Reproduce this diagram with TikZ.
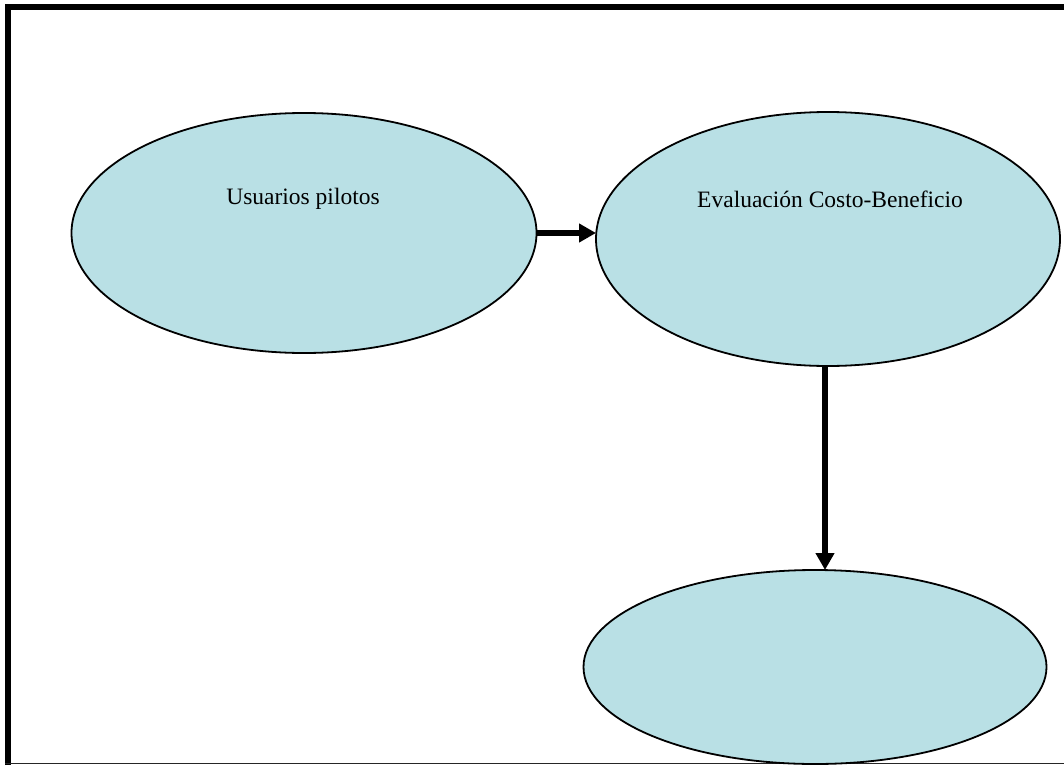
\documentclass[tikz,border=0pt]{standalone}
\usepackage{fontspec}
\setmainfont{Liberation Serif}
\usetikzlibrary{shapes.geometric,arrows.meta}
\definecolor{bubble}{RGB}{185,224,229}
\tikzset{
  x=1pt,y=-1pt,
  bubble/.style={ellipse,draw=black,fill=bubble,line width=1.8pt,inner sep=0pt,outer sep=0pt},
  lbl/.style={font=\fontsize{23.5}{26}\selectfont,inner sep=0pt},
  arr/.style={line width=6pt,-{Triangle[length=17pt,width=18pt]}},
  frame/.style={line width=6pt,black}
}
\begin{document}
\begin{tikzpicture}
\useasboundingbox (0,0) rectangle (1064,765);
% frame
\coordinate (fbl) at (8,765);
\coordinate (ftl) at (8,7);
\coordinate (ftr) at (1064,7);
\coordinate (fbl2) at (5,763.5);
\coordinate (fbr2) at (1064,763.5);
\draw[frame] (fbl) -- (ftl) -- (ftr);
\draw[line width=1.5pt,black!85] (fbl2) -- (fbr2);
% ellipses
\node[bubble,minimum width=465pt,minimum height=240pt] (e1) at (304,233) {};
\node[bubble,minimum width=464pt,minimum height=254pt] (e2) at (828,239) {};
\node[bubble,minimum width=463pt,minimum height=194pt] (e3) at (815,667) {};
% labels
\node[lbl] (t1) at (303,199) {Usuarios pilotos};
\node[lbl] (t2) at (830,199) {Evaluación Costo-Beneficio};
% arrows
\draw[arr] (e1.east) -- (e1.east -| e2.west);
\draw[arr] ([xshift=-3pt]e2.south) -- ([xshift=-3pt]e2.south |- e3.north);
\end{tikzpicture}
\end{document}
